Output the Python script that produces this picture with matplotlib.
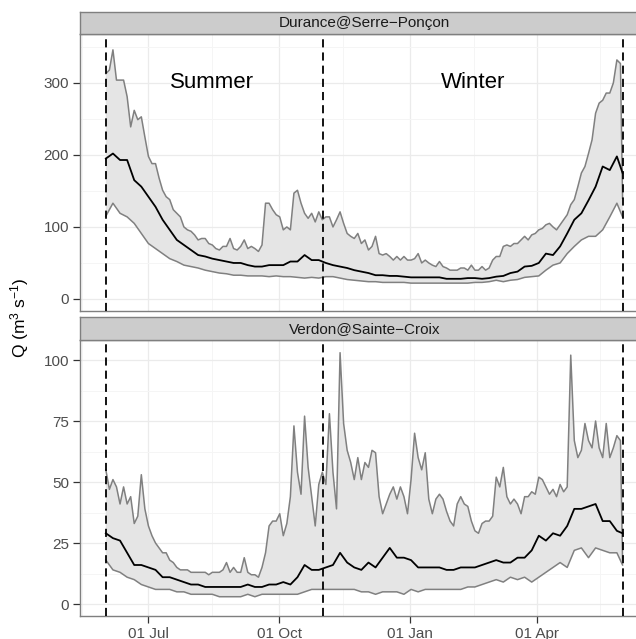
import numpy as np
import pandas as pd
import matplotlib
matplotlib.use("Agg")
import matplotlib.pyplot as plt
import matplotlib.dates as mdates

plt.rcParams["font.family"] = ["Liberation Sans", "DejaVu Sans"]
plt.rcParams["mathtext.fontset"] = "custom"
plt.rcParams["mathtext.rm"] = "Liberation Sans"
plt.rcParams["mathtext.default"] = "regular"

# sampling dates: envelopes every 2.5 days, median / lower bound every 5 days (1 June -> 31 May)
dates_hi = list(pd.date_range("2001-06-01", periods=146, freq="60h")) + [pd.Timestamp("2002-05-31")]
dates = list(pd.date_range("2001-06-01", "2002-05-27", freq="5D")) + [pd.Timestamp("2002-05-31")]

# Durance@Serre-Ponçon
dur_hi = [313, 318, 346, 304, 304, 304, 281, 239, 262, 249,
          253, 225, 198, 188, 188, 168, 151, 142, 138, 124,
          119, 114, 100, 96, 94, 89, 82, 84, 84, 77,
          75, 70, 68, 73, 73, 84, 70, 68, 73, 82,
          70, 73, 70, 66, 75, 133, 133, 124, 117, 114,
          96, 100, 96, 147, 151, 133, 119, 112, 119, 107,
          121, 110, 114, 114, 100, 110, 121, 105, 91, 87,
          84, 91, 77, 82, 68, 73, 87, 63, 61, 63,
          59, 54, 59, 54, 59, 54, 54, 56, 63, 50,
          54, 50, 47, 45, 52, 45, 43, 40, 40, 40,
          43, 43, 40, 47, 40, 40, 45, 40, 43, 54,
          59, 59, 73, 75, 73, 77, 77, 82, 87, 82,
          89, 91, 96, 98, 103, 105, 100, 96, 103, 110,
          117, 131, 138, 156, 175, 184, 202, 221, 258, 272,
          276, 286, 286, 300, 332, 327, 140]
dur_med = [195, 202, 193, 193, 165, 156, 142, 128, 110, 96,
           82, 75, 68, 61, 59, 56, 54, 52, 50, 50,
           47, 45, 45, 47, 47, 47, 52, 52, 61, 54,
           54, 50, 47, 45, 43, 40, 38, 36, 33, 33,
           32, 32, 31, 30, 30, 30, 30, 30, 28, 28,
           28, 29, 29, 28, 29, 31, 32, 36, 38, 45,
           46, 50, 63, 61, 73, 91, 110, 119, 137, 156,
           184, 179, 198, 175]
dur_lo = [115, 133, 119, 114, 105, 91, 77, 70, 63, 56,
          52, 47, 45, 43, 40, 38, 36, 35, 33, 33,
          32, 32, 32, 31, 32, 31, 31, 30, 29, 30,
          29, 31, 31, 29, 27, 26, 25, 24, 24, 23,
          23, 23, 23, 22, 22, 22, 22, 22, 22, 22,
          22, 22, 23, 23, 24, 26, 24, 26, 27, 30,
          31, 32, 40, 47, 50, 63, 73, 82, 87, 87,
          96, 114, 133, 114]

# Verdon@Sainte-Croix
ver_hi = [55, 47, 51, 48, 41, 48, 41, 44, 33, 36,
          53, 39, 32, 28, 25, 23, 21, 21, 18, 17,
          15, 14, 14, 14, 13, 13, 13, 13, 13, 12,
          13, 13, 13, 14, 17, 13, 15, 13, 13, 19,
          13, 12, 12, 11, 15, 21, 32, 34, 34, 37,
          28, 33, 44, 73, 54, 45, 77, 56, 44, 32,
          49, 54, 49, 78, 54, 39, 103, 74, 63, 58,
          51, 60, 51, 58, 56, 63, 62, 44, 37, 41,
          45, 48, 43, 48, 44, 37, 51, 70, 60, 55,
          62, 43, 37, 43, 45, 43, 38, 34, 32, 41,
          44, 41, 40, 34, 30, 29, 33, 34, 34, 36,
          52, 48, 56, 44, 41, 43, 41, 37, 44, 44,
          46, 45, 52, 51, 48, 45, 47, 44, 49, 46,
          48, 102, 67, 60, 63, 74, 67, 64, 75, 64,
          60, 74, 60, 64, 69, 67, 18]
ver_med = [29, 27, 26, 21, 16, 16, 15, 14, 11, 11,
           10, 9, 8, 8, 7, 7, 7, 7, 7, 7,
           8, 7, 7, 8, 8, 9, 8, 11, 16, 14,
           14, 15, 16, 21, 17, 15, 14, 17, 15, 19,
           23, 19, 19, 18, 15, 15, 15, 15, 14, 14,
           15, 15, 15, 16, 17, 18, 17, 17, 19, 19,
           22, 28, 26, 29, 28, 32, 39, 39, 40, 41,
           34, 34, 30, 29]
ver_lo = [18, 14, 13, 11, 10, 8, 7, 6, 6, 6,
          5, 5, 4, 4, 4, 4, 3, 3, 3, 3,
          4, 3, 4, 4, 4, 4, 4, 4, 5, 6,
          6, 6, 6, 6, 6, 6, 5, 5, 4, 5,
          5, 5, 4, 6, 5, 6, 6, 6, 6, 6,
          6, 7, 7, 8, 9, 10, 9, 11, 10, 11,
          9, 11, 13, 15, 17, 15, 22, 23, 19, 23,
          22, 21, 21, 16]

stations = ["Durance@Serre\u2212Ponçon", "Verdon@Sainte\u2212Croix"]
season_bounds = ["2001-06-01", "2001-11-01", "2002-05-31"]
season_labels = ["Summer", "Winter"]
season_label_dates = ["2001-08-15", "2002-02-15"]

x_hi = mdates.date2num(pd.DatetimeIndex(dates_hi))
x = mdates.date2num(pd.DatetimeIndex(dates))
x_bounds = mdates.date2num(pd.DatetimeIndex(season_bounds))
x_lab = mdates.date2num(pd.DatetimeIndex(season_label_dates))

W, H = 636, 639
fig = plt.figure(figsize=(W / 100, H / 100), dpi=100)

xl = 80 / W
xw = 568.4 / W
panels = [
    dict(ax=[xl, (H - 310.7) / H, xw, 276.4 / H], strip=[xl, (H - 34.3) / H, xw, 22 / H],
         hi=dur_hi, med=dur_med, lo=dur_lo, ylim=(-16.3, 367.6),
         major=[0, 100, 200, 300], minor=[50, 150, 250, 350]),
    dict(ax=[xl, (H - 616) / H, xw, 276 / H], strip=[xl, (H - 340) / H, xw, 22.7 / H],
         hi=ver_hi, med=ver_med, lo=ver_lo, ylim=(-4.9, 108.2),
         major=[0, 25, 50, 75, 100], minor=[12.5, 37.5, 62.5, 87.5]),
]

span = x_bounds[-1] - x_bounds[0]
xlim = (x_bounds[0] - span * 0.05, x_bounds[-1] + span * 0.05)

for i, p in enumerate(panels):
    ax = fig.add_axes(p["ax"])
    ax.set_facecolor("white")
    # ribbon between lower bound and upper envelope
    ax.fill(np.concatenate([x_hi, x[::-1]]), np.concatenate([p["hi"], p["lo"][::-1]]),
            color="#E5E5E5", lw=0, zorder=2)
    ax.plot(x_hi, p["hi"], color="#808080", lw=1.1, zorder=3)
    ax.plot(x, p["lo"], color="#808080", lw=1.1, zorder=3)
    ax.plot(x, p["med"], color="black", lw=1.3, zorder=4)
    for b in x_bounds:
        ax.axvline(b, color="black", lw=1.3, dashes=(4.5, 2.8), zorder=5)

    ax.set_xlim(xlim)
    ax.set_ylim(p["ylim"])
    ax.set_yticks(p["major"])
    ax.set_yticks(p["minor"], minor=True)
    ax.xaxis.set_major_locator(mdates.MonthLocator(bymonth=[1, 4, 7, 10], bymonthday=1))
    ax.xaxis.set_minor_locator(mdates.MonthLocator(bymonth=[2, 5, 8, 11], bymonthday=15))
    ax.xaxis.set_major_formatter(mdates.DateFormatter("%d %b"))
    ax.grid(which="major", color="#EBEBEB", lw=0.9, zorder=0)
    ax.grid(which="minor", color="#F5F5F5", lw=0.7, zorder=0)
    ax.set_axisbelow(True)
    ax.tick_params(which="major", length=5, width=0.9, color="#333333",
                   labelsize=11, labelcolor="#4D4D4D", pad=3)
    ax.tick_params(which="minor", length=0)
    if i == 0:
        ax.tick_params(axis="x", which="both", bottom=False, labelbottom=False)
        for lab, d in zip(season_labels, x_lab):
            ax.text(d, 300, lab, ha="center", va="center", fontsize=16, color="black", zorder=6)
    for s in ax.spines.values():
        s.set_color("#7F7F7F")
        s.set_linewidth(1.0)

    st = fig.add_axes(p["strip"])
    st.set_facecolor("#CCCCCC")
    st.set_xticks([])
    st.set_yticks([])
    for s in st.spines.values():
        s.set_color("#7F7F7F")
        s.set_linewidth(1.0)
    st.text(0.5, 0.5, stations[i], ha="center", va="center", fontsize=11,
            color="#1A1A1A", transform=st.transAxes)

fig.text(20 / W, 1 - 318 / H, r"Q (m$^3$ s$^{-1}$)", rotation=90, ha="center", va="center",
         fontsize=12.5, color="black")

fig.savefig("out.png", dpi=100)
